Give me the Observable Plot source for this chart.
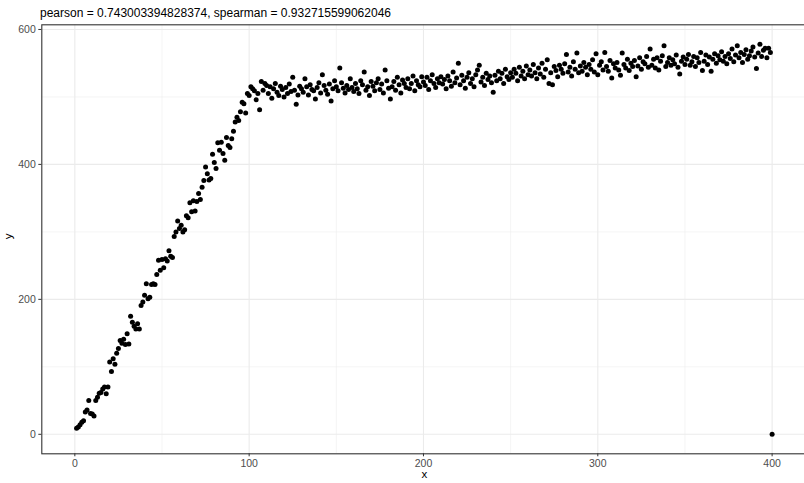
<!DOCTYPE html>
<html>
<head>
<meta charset="utf-8">
<script src="https://cdn.jsdelivr.net/npm/d3@7"></script>
<script src="https://cdn.jsdelivr.net/npm/@observablehq/plot@0.6"></script>
<style>
  html, body { margin: 0; padding: 0; background: #fff; overflow: hidden; }
  #title {
    font-family: "Liberation Sans", Arial, sans-serif;
    font-size: 12px; line-height: 14px; color: #000;
    height: 16px; padding: 6px 0 0 40px; white-space: nowrap;
  }
  #chart svg { max-width: none !important; display: block; }
</style>
</head>
<body>
<div id="title"></div>
<div id="chart"></div>
<script>
const titleText = "pearson = 0.743003394828374, spearman = 0.932715599062046";
const xLabel = "x";
const yLabel = "y";
const xTicks = [0, 100, 200, 300, 400];
const xMinor = [50, 150, 250, 350];
const yTicks = [0, 200, 400, 600];
const yMinor = [100, 300, 500];

// y values for x = 1 .. 400
const yRise = [
  9, 11, 14, 18, 20, 33, 36, 50, 31, 30,
  27, 50, 55, 61, 62, 67, 70, 60, 70, 107,
  93, 112, 104, 120, 127, 139, 135, 141, 133, 149,
  134, 175, 166, 160, 156, 164, 156, 191, 196, 206,
  223, 201, 203, 222, 223, 222, 237, 258, 243, 259,
  247, 260, 257, 272, 264, 262, 293, 300, 316, 305,
  310, 300, 303, 324, 321, 343, 330, 346, 331, 345,
  357, 348, 366, 376, 396, 386, 377, 379, 415, 403,
  394, 432, 421, 433, 416, 406, 440, 428, 425, 438,
  449, 463, 470, 465, 478, 492, 490, 476, 505, 502,
  515, 512, 509, 496, 505, 481, 523, 510, 520, 517
];
const yPlateau = [
  505, 515, 498, 512, 520, 507, 502, 516, 511, 500,
  514, 505, 519, 508, 529, 510, 489, 503, 516, 512,
  507, 527, 515, 503, 518, 511, 509, 497, 514, 521,
  506, 533, 517, 510, 504, 519, 494, 512, 524, 515,
  509, 543, 521, 513, 506, 517, 511, 527, 514, 508,
  520, 512, 505, 524, 518, 537, 510, 515, 502, 523,
  516, 509, 521, 527, 511, 519, 506, 540, 524, 513,
  497, 515, 523, 510, 529, 518, 506, 525, 520, 514,
  527, 512, 520, 531, 509, 524, 518, 515, 530, 522,
  517, 529, 511, 524, 533, 520, 514, 527, 521, 530,
  519, 526, 512, 531, 524, 516, 537, 521, 528, 550,
  518, 532, 524, 513, 529, 536, 520, 527, 515, 533,
  540, 547, 522, 529, 517, 535, 526, 531, 521, 507,
  532, 524, 538, 527, 535, 520, 541, 530, 526, 536,
  529, 541, 535, 524, 544, 531, 538, 527, 546, 533,
  540, 531, 548, 536, 527, 543, 534, 550, 529, 541,
  555, 520, 536, 518, 545, 539, 530, 547, 541, 535,
  549, 563, 537, 544, 531, 552, 541, 565, 536, 546,
  538, 551, 544, 533, 548, 541, 555, 537, 564, 533,
  547, 552, 540, 566, 545, 538, 554, 528, 549, 543,
  551, 540, 532, 565, 548, 543, 556, 539, 550, 545,
  554, 530, 546, 558, 541, 552, 549, 560, 544, 571,
  547, 556, 543, 558, 540, 553, 561, 576, 545, 551,
  558, 547, 555, 549, 562, 544, 534, 553, 559, 548,
  556, 563, 547, 552, 560, 545, 558, 551, 566, 539,
  553, 562, 548, 559, 538, 556, 564, 550, 561, 555,
  567, 553, 560, 549, 564, 557, 571, 552, 562, 576,
  558, 566, 551, 563, 570, 556, 561, 568, 574, 559,
  542, 565, 578, 560, 569, 572, 558, 572, 566
];
const yLast = [0];

const yValues = [...yRise, ...yPlateau, ...yLast];
const data = yValues.map((y, i) => ({x: i + 1, y}));

document.getElementById("title").textContent = titleText;

const font = '"Liberation Sans", Arial, sans-serif';
const chart = Plot.plot({
  width: 808,
  height: 461,
  marginLeft: 41.3,
  marginRight: 1.6,
  marginTop: 2.3,
  marginBottom: 29.7,
  x: {domain: [-18.95, 419.95]},
  y: {domain: [-28.9, 606.9]},
  style: {fontFamily: font, fontSize: "10.5px", background: "#fff", color: "#4D4D4D"},
  marks: [
    Plot.ruleX(xMinor, {stroke: "#EBEBEB", strokeWidth: 0.55}),
    Plot.ruleY(yMinor, {stroke: "#EBEBEB", strokeWidth: 0.55}),
    Plot.ruleX(xTicks, {stroke: "#EBEBEB", strokeWidth: 1.1}),
    Plot.ruleY(yTicks, {stroke: "#EBEBEB", strokeWidth: 1.1}),
    Plot.dot(data, {x: "x", y: "y", r: 2.5, fill: "#000", stroke: "none"}),
    Plot.frame({stroke: "#333333", strokeWidth: 1.1}),
    Plot.axisX(xTicks, {tickSize: 3, tickPadding: 3, stroke: "#333333", fill: "#4D4D4D", fontSize: 10.5, label: null}),
    Plot.axisY(yTicks, {tickSize: 3, tickPadding: 3, stroke: "#333333", fill: "#4D4D4D", fontSize: 10.5, label: null}),
    Plot.text([xLabel], {frameAnchor: "bottom", text: d => d, dy: 24, fill: "#000", fontSize: 11.5}),
    Plot.text([yLabel], {frameAnchor: "left", text: d => d, dx: -33, rotate: -90, fill: "#000", fontSize: 11.5})
  ]
});
document.getElementById("chart").appendChild(chart);
</script>
</body>
</html>
